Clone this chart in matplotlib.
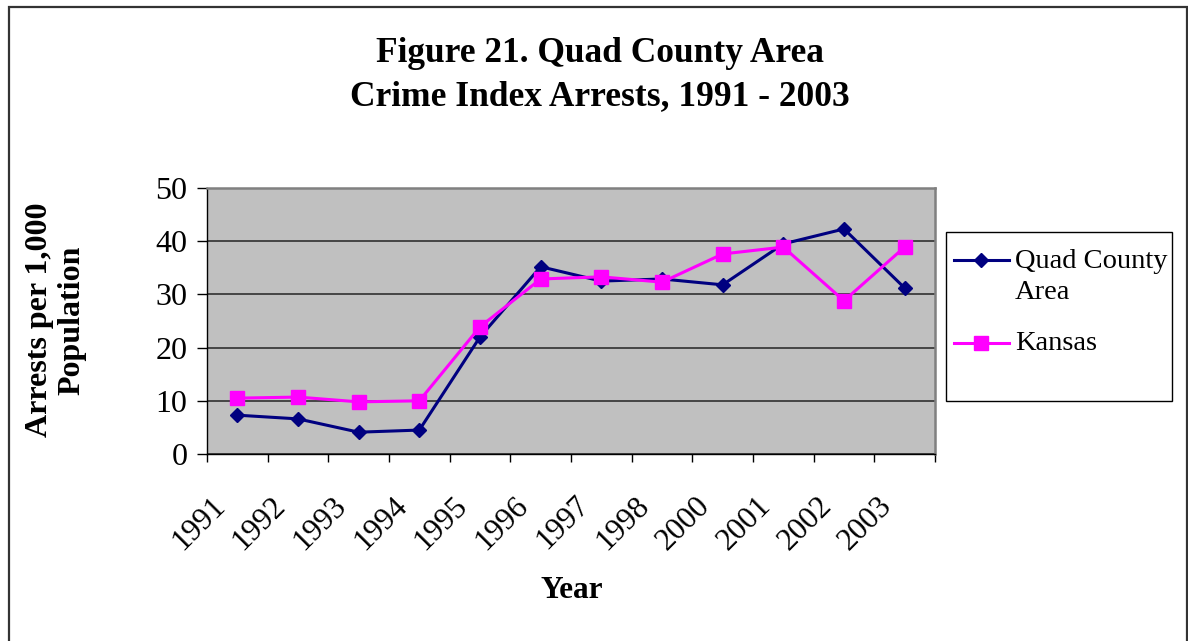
import matplotlib
matplotlib.use("Agg")
import matplotlib.pyplot as plt
from matplotlib.patches import Rectangle
from matplotlib.lines import Line2D
from matplotlib.transforms import ScaledTranslation
import numpy as np

# data
years = ["1991", "1992", "1993", "1994", "1995", "1996",
         "1997", "1998", "2000", "2001", "2002", "2003"]
quad_county = [7.3, 6.6, 4.1, 4.5, 22.0, 35.2, 32.5, 32.9, 31.8, 39.5, 42.3, 31.2]
kansas = [10.5, 10.7, 9.8, 10.0, 23.9, 32.9, 33.3, 32.3, 37.6, 38.9, 28.8, 38.9]

plt.rcParams["font.family"] = ["Liberation Serif", "DejaVu Serif"]

fig = plt.figure(figsize=(11.88, 6.41), dpi=100)
W, H = 1188, 641

def fx(px):
    return px / W

def fy(py):
    return 1 - py / H

# outer chart frame
fig.patches.append(Rectangle((fx(9), -0.05), fx(1187 - 9), 1.05 - 7 / H,
                             transform=fig.transFigure, fill=False,
                             edgecolor="#333333", linewidth=1.6))

ax = fig.add_axes([fx(207), fy(454), fx(935 - 207), (454 - 188) / H])
ax.set_facecolor("#c0c0c0")

x = np.arange(len(years))
quad_style = dict(color="#000080", marker="D", markersize=7.5, linewidth=2.2)
kansas_style = dict(color="#ff00ff", marker="s", markersize=10.5, linewidth=2.2)
ax.plot(x, quad_county, **quad_style)
ax.plot(x, kansas, **kansas_style)

ax.set_xlim(-0.5, len(years) - 0.5)
ax.set_ylim(0, 50)
ax.set_yticks(range(0, 51, 10))
ax.yaxis.grid(True, color="#3c3c3c", linewidth=1.3)
ax.set_axisbelow(True)

for s in ax.spines.values():
    s.set_color("#808080")
    s.set_linewidth(1.8)
ax.spines["left"].set_color("black")
ax.spines["bottom"].set_color("black")
ax.spines["left"].set_linewidth(1.0)
ax.spines["bottom"].set_linewidth(1.0)

ax.tick_params(axis="y", labelsize=23, length=7, width=1, pad=7)

# ticks at category boundaries, labels under the centers
ax.set_xticks(np.arange(-0.5, len(years) + 0.5, 1), minor=True)
ax.tick_params(axis="x", which="minor", length=6, width=1)
ax.set_xticks(x)
ax.set_xticklabels(years, rotation=45, ha="right", rotation_mode="anchor")
ax.tick_params(axis="x", which="major", length=0, labelsize=22.5, pad=0)
offset = ScaledTranslation(-27 / 100, -37 / 100, fig.dpi_scale_trans)
for lbl in ax.get_xticklabels():
    lbl.set_transform(lbl.get_transform() + offset)

fig.text(fx(572), fy(590), "Year", ha="center", va="center",
         fontsize=22.5, fontweight="bold")
fig.text(fx(56), fy(320), "Arrests per 1,000\nPopulation", rotation=90,
         ha="center", va="center", fontsize=23, fontweight="bold",
         linespacing=1.15)

fig.text(fx(600), fy(75), "Figure 21. Quad County Area\nCrime Index Arrests, 1991 - 2003",
         ha="center", va="center", fontsize=25.5, fontweight="bold",
         linespacing=1.42)

# legend, drawn by hand so the handle sits on the first label line
fig.patches.append(Rectangle((fx(946), fy(401)), fx(1172 - 946), (401 - 232) / H,
                             transform=fig.transFigure, fill=False,
                             edgecolor="black", linewidth=1.0))
entries = [(quad_style, "Quad County\nArea", 260, 277),
           (kansas_style, "Kansas", 343, 344)]
for style, label, hy, ty in entries:
    fig.add_artist(Line2D([fx(954), fx(1009)], [fy(hy), fy(hy)],
                          transform=fig.transFigure, linewidth=style["linewidth"],
                          color=style["color"]))
    fig.add_artist(Line2D([fx(981.5)], [fy(hy)], transform=fig.transFigure,
                          linestyle="none", marker=style["marker"],
                          markersize=style["markersize"], color=style["color"]))
    fig.text(fx(1015), fy(ty), label, ha="left", va="center", fontsize=20.5,
             linespacing=1.3)

fig.savefig("out.png", dpi=100)
